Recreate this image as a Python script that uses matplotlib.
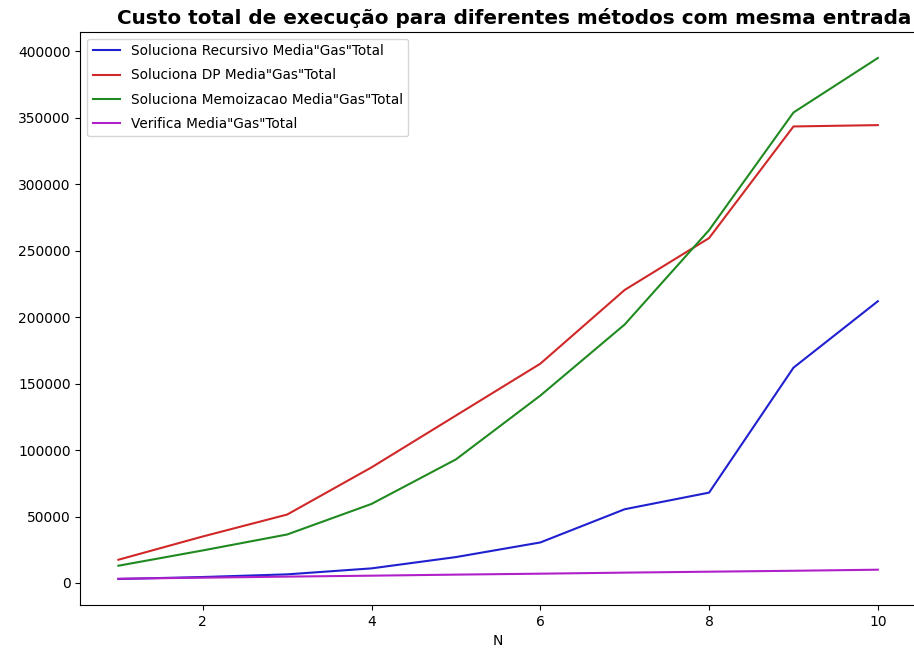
import matplotlib
matplotlib.use("Agg")
import matplotlib.pyplot as plt

N = [1, 2, 3, 4, 5, 6, 7, 8, 9, 10]
recursivo = [3000, 4500, 6500, 11000, 19500, 30500, 55500, 68000, 162000, 212000]
dp = [17500, 35000, 51500, 87000, 126000, 165000, 220500, 259500, 343500, 344500]
memo = [13000, 24500, 36500, 59500, 93000, 141000, 194500, 265500, 354000, 395000]
verifica = [3200, 4000, 4800, 5500, 6300, 7000, 7800, 8500, 9200, 10000]

labels = ['Soluciona Recursivo Media"Gas"Total',
          'Soluciona DP Media"Gas"Total',
          'Soluciona Memoizacao Media"Gas"Total',
          'Verifica Media"Gas"Total']
colors = ['#2020d0', '#d02828', '#208a20', '#b020c8']

plt.rcParams['font.family'] = ['DejaVu Sans']
fig = plt.figure(figsize=(9.14, 6.52), dpi=100)
ax = fig.add_axes([0.088, 0.072, 0.914, 0.879])
for ys, lab, c in zip([recursivo, dp, memo, verifica], labels, colors):
    ax.plot(N, ys, color=c, label=lab, linewidth=1.5)
ax.spines['right'].set_visible(False)
ax.set_xlabel('N', fontsize=10)
ax.tick_params(labelsize=10)
ax.set_title('Custo total de execução para diferentes métodos com mesma entrada',
             fontsize=14.4, fontweight='bold', x=0.519)
ax.legend(loc='upper left', fontsize=9.8, labelspacing=0.75)
fig.savefig('out.png', dpi=100)
